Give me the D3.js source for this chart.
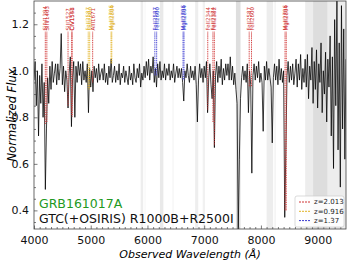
<!DOCTYPE html>
<html>
<head>
<meta charset="utf-8">
<title>GRB161017A spectrum</title>
<script src="https://d3js.org/d3.v7.min.js"></script>
<style>
  body { margin: 0; background: #fff; }
  svg text { font-family: "DejaVu Sans", sans-serif; }
  .axis path { display: none; }
  .axis line { stroke: #444; stroke-width: 0.7; }
  .axis text { font-size: 11px; fill: #111; }
</style>
</head>
<body>
<svg id="chart" width="350" height="260"></svg>
<script>
// spectrum, one value every 20 A starting at 4000 A
var waveStart = 4000, waveStep = 20;
var flux = [
  0.96, 1.04, 0.85, 1.00, 0.72, 0.98, 0.86, 1.03, 0.80, 0.95,
  0.49, 0.75, 0.97, 0.86, 1.02, 0.92, 1.04, 0.95, 0.99, 1.03,
  0.94, 1.03, 0.96, 1.01, 1.16, 0.94, 1.02, 0.91, 1.00, 0.96,
  0.84, 0.99, 1.06, 0.76, 0.97, 1.04, 0.80, 1.02, 0.95, 1.04,
  0.98, 1.03, 0.94, 1.04, 0.96, 1.00, 0.95, 1.03, 0.82, 1.01,
  0.93, 1.00, 0.91, 1.02, 0.97, 1.01, 0.95, 1.03, 0.96, 0.99,
  1.01, 0.96, 1.03, 0.95, 0.99, 0.94, 1.02, 0.97, 1.05, 0.95,
  0.98, 1.02, 0.95, 1.00, 0.96, 1.03, 0.94, 0.99, 0.97, 1.02,
  0.95, 1.00, 0.97, 0.94, 1.02, 0.96, 0.99, 0.94, 1.03, 0.97,
  0.95, 1.01, 0.97, 1.03, 0.93, 0.99, 0.96, 1.02, 0.97, 1.04,
  0.98, 1.05, 0.96, 1.02, 0.99, 1.06, 0.95, 1.01, 0.93, 1.03,
  0.97, 1.04, 0.96, 1.00, 0.97, 1.03, 0.96, 1.01, 0.98, 1.03,
  0.96, 1.00, 0.97, 1.03, 0.95, 0.99, 1.02, 0.97, 1.01, 0.97,
  1.01, 0.95, 0.87, 1.00, 0.97, 1.03, 0.98, 0.95, 1.02, 0.97,
  1.00, 0.96, 1.02, 0.94, 0.78, 0.96, 1.03, 0.97, 1.01, 0.95,
  1.02, 0.97, 1.04, 0.82, 0.97, 1.03, 0.94, 0.88, 1.00, 0.67,
  0.98, 1.04, 0.95, 1.02, 0.97, 1.05, 0.94, 1.01, 0.96, 1.03,
  0.98, 1.03, 0.96, 1.06, 0.96, 1.02, 0.94, 0.99, 0.92, 0.86,
  0.31, 0.62, 0.88, 0.97, 1.02, 0.96, 1.00, 0.95, 1.03, 0.82,
  1.00, 0.94, 0.56, 0.98, 1.03, 0.96, 1.02, 0.97, 1.04, 0.95,
  0.99, 0.95, 0.74, 1.02, 0.96, 1.04, 0.96, 1.01, 0.97, 0.93,
  0.69, 0.97, 1.03, 0.96, 1.02, 0.94, 1.05, 0.96, 1.01, 0.95,
  1.00, 0.37, 0.66, 0.98, 1.04, 0.95, 1.02, 0.96, 1.03, 0.94,
  0.99, 1.05, 0.93, 1.03, 0.96, 1.07, 0.92, 1.01, 0.95, 1.05,
  0.93, 1.07, 0.88, 1.02, 0.96, 1.10, 0.86, 1.04, 0.92, 1.09,
  0.84, 1.03, 0.95, 1.12, 0.82, 1.00, 0.90, 1.08, 0.78, 1.05,
  0.93, 1.15, 0.72, 1.06, 0.58, 1.22, 0.85, 1.30, 0.66, 1.12,
  0.50, 1.28, 0.75, 1.18, 0.62, 1.05
];

var xTicks = [4000, 5000, 6000, 7000, 8000, 9000];
var yTicks = [0.4, 0.6, 0.8, 1.0, 1.2];

// telluric / sky regions (A)
var bandStart = [5880, 5950, 6220, 6440, 6840, 6975, 7560, 8100, 8240, 8780, 8920];
var bandEnd   = [5925, 5965, 6280, 6460, 6895, 7015, 7640, 8215, 8260, 9500, 9170];
var bandShade = [0.13, 0.08, 0.16, 0.08, 0.12, 0.10, 0.24, 0.13, 0.10, 0.13, 0.13];

// absorption systems
var redshifts = ["2.013", "0.916", "1.37"];
var zColors = ["#d03434", "#e2b325", "#3a3ad0"];

var ionNames = ["SiIV1394", "SiIV1403", "SiII1527", "CIV1548", "CIV1551",
  "FeII2587", "FeII2600", "AlII1671", "MgII2796", "MgII2804",
  "FeII2587", "FeII2600", "MgII2796", "MgII2804",
  "FeII2344", "FeII2374", "FeII2382", "FeII2587", "FeII2600", "MgII2796", "MgII2804"];
var ionRest = [1393.76, 1402.77, 1526.71, 1548.20, 1550.78,
  2586.65, 2600.17, 1670.79, 2796.35, 2803.53,
  2586.65, 2600.17, 2796.35, 2803.53,
  2344.21, 2374.46, 2382.76, 2586.65, 2600.17, 2796.35, 2803.53];
var ionSystem = [0, 0, 0, 0, 0, 1, 1, 0, 1, 1, 2, 2, 2, 2, 0, 0, 0, 0, 0, 0, 0];
// flux level where each marker line stops
var ionEnd = [0.77, 0.78, 0.85, 0.81, 0.80, 0.92, 0.92, 0.95, 1.03, 1.03,
  0.98, 0.98, 0.96, 0.96, 0.83, 0.78, 0.68, 0.93, 0.93, 0.40, 0.40];

var svg = d3.select("#chart"),
    margin = {top: 1, right: 4, bottom: 31, left: 34},
    W = +svg.attr("width"), H = +svg.attr("height");

var x = d3.scaleLinear().domain([4000, 9500]).range([margin.left, W - margin.right]);
var y = d3.scaleLinear().domain([0.32, 1.3]).range([H - margin.bottom, margin.top]);

svg.append("clipPath").attr("id", "clip")
  .append("rect")
    .attr("x", x(4000)).attr("y", y(1.3))
    .attr("width", x(9500) - x(4000)).attr("height", y(0.32) - y(1.3));

var plot = svg.append("g").attr("clip-path", "url(#clip)");

var bands = bandStart.map(function(s, i) { return {s: s, e: bandEnd[i], a: bandShade[i]}; });
plot.selectAll(".band")
  .data(bands)
  .enter().append("rect")
    .attr("class", "band")
    .attr("x", function(d) { return x(d.s); })
    .attr("width", function(d) { return x(d.e) - x(d.s); })
    .attr("y", y(1.3))
    .attr("height", y(0.32) - y(1.3))
    .attr("fill", "#777")
    .attr("fill-opacity", function(d) { return d.a; });

var spec = flux.map(function(f, i) { return [waveStart + i * waveStep, f]; });
plot.append("path")
  .datum(spec)
  .attr("fill", "none")
  .attr("stroke", "#000")
  .attr("stroke-opacity", 0.85)
  .attr("stroke-width", 0.9)
  .attr("d", d3.line().x(function(d) { return x(d[0]); }).y(function(d) { return y(d[1]); }));

// line markers, labels spread so they don't overlap
var ions = ionNames.map(function(n, i) {
  var obs = ionRest[i] * (1 + (+redshifts[ionSystem[i]]));
  return {name: n, lx: x(obs), px: x(obs), sys: ionSystem[i], end: ionEnd[i]};
}).sort(function(a, b) { return a.px - b.px; });

var gap = 6.5;
for (var iter = 0; iter < 20; iter++) {
  var clusters = [], cur = [ions[0]];
  for (var i = 1; i < ions.length; i++) {
    if (ions[i].lx - cur[cur.length - 1].lx < gap - 0.01) cur.push(ions[i]);
    else { clusters.push(cur); cur = [ions[i]]; }
  }
  clusters.push(cur);
  clusters.forEach(function(c) {
    var m = d3.mean(c, function(d) { return d.px; });
    c.forEach(function(d, j) { d.lx = m + (j - (c.length - 1) / 2) * gap; });
  });
}

var marks = svg.append("g");
marks.selectAll(".conn")
  .data(ions)
  .enter().append("path")
    .attr("fill", "none")
    .attr("stroke", function(d) { return zColors[d.sys]; })
    .attr("stroke-width", 0.6)
    .attr("d", function(d) { return "M" + d.lx + ",31.5L" + d.lx + ",32.5L" + d.px + ",36.5"; });
marks.selectAll(".dots")
  .data(ions)
  .enter().append("line")
    .attr("stroke", function(d) { return zColors[d.sys]; })
    .attr("stroke-width", 1)
    .attr("stroke-dasharray", "1,0.8")
    .attr("x1", function(d) { return d.px; })
    .attr("x2", function(d) { return d.px; })
    .attr("y1", 36.5)
    .attr("y2", function(d) { return y(d.end); });
marks.selectAll(".lab")
  .data(ions)
  .enter().append("text")
    .attr("transform", function(d) { return "translate(" + (d.lx + 2) + ",30.5) rotate(-90)"; })
    .attr("fill", function(d) { return zColors[d.sys]; })
    .style("font-size", "5.5px")
    .text(function(d) { return d.name; });

// axes, ticks pointing in
svg.append("g")
  .attr("class", "axis")
  .attr("transform", "translate(0," + y(0.32) + ")")
  .call(d3.axisBottom(x).tickValues(xTicks).tickSize(-3.5).tickPadding(7).tickFormat(d3.format("d")));
svg.append("g")
  .attr("class", "axis")
  .attr("transform", "translate(0," + y(0.32) + ")")
  .call(d3.axisBottom(x).tickValues(d3.range(4100, 9500, 100).filter(function(v) { return v % 1000; }))
    .tickSize(-2).tickFormat(""));
svg.append("g")
  .attr("class", "axis")
  .attr("transform", "translate(" + x(4000) + ",0)")
  .call(d3.axisLeft(y).tickValues(yTicks).tickSize(-3.5).tickPadding(5).tickFormat(d3.format(".1f")));
svg.append("g")
  .attr("class", "axis")
  .attr("transform", "translate(" + x(4000) + ",0)")
  .call(d3.axisLeft(y).tickValues([0.35, 0.45, 0.5, 0.55, 0.65, 0.7, 0.75, 0.85, 0.9, 0.95, 1.05, 1.1, 1.15, 1.25])
    .tickSize(-2).tickFormat(""));

svg.append("rect")
  .attr("x", x(4000)).attr("y", y(1.3))
  .attr("width", x(9500) - x(4000)).attr("height", y(0.32) - y(1.3))
  .attr("fill", "none").attr("stroke", "#444").attr("stroke-width", 0.8);

svg.append("text")
  .attr("transform", "translate(16," + ((y(1.3) + y(0.32)) / 2) + ") rotate(-90)")
  .attr("text-anchor", "middle")
  .style("font-size", "11.5px").style("font-style", "italic")
  .text("Normalized Flux");
svg.append("text")
  .attr("x", (x(4000) + x(9500)) / 2).attr("y", 257.5)
  .attr("text-anchor", "middle")
  .style("font-size", "11px").style("font-style", "italic")
  .text("Observed Wavelength (Å)");

svg.append("text")
  .attr("x", 39).attr("y", 208)
  .attr("fill", "#229922")
  .style("font-size", "12.5px")
  .text("GRB161017A");
svg.append("text")
  .attr("x", 39).attr("y", 223)
  .attr("fill", "#111")
  .style("font-size", "12.5px")
  .text("GTC(+OSIRIS) R1000B+R2500I");

// legend
var leg = svg.append("g").attr("transform", "translate(295,196)");
leg.append("rect")
  .attr("width", 49).attr("height", 31).attr("rx", 2)
  .attr("fill", "#fff").attr("fill-opacity", 0.85)
  .attr("stroke", "#ccc").attr("stroke-width", 0.7);
redshifts.forEach(function(z, i) {
  leg.append("line")
    .attr("x1", 4).attr("x2", 15).attr("y1", 6 + i * 9.3).attr("y2", 6 + i * 9.3)
    .attr("stroke", zColors[i]).attr("stroke-width", 1).attr("stroke-dasharray", "2,1");
  leg.append("text")
    .attr("x", 19).attr("y", 6 + i * 9.3).attr("dy", "0.35em")
    .style("font-size", "7px").attr("fill", "#222")
    .text("z=" + z);
});
</script>
</body>
</html>
